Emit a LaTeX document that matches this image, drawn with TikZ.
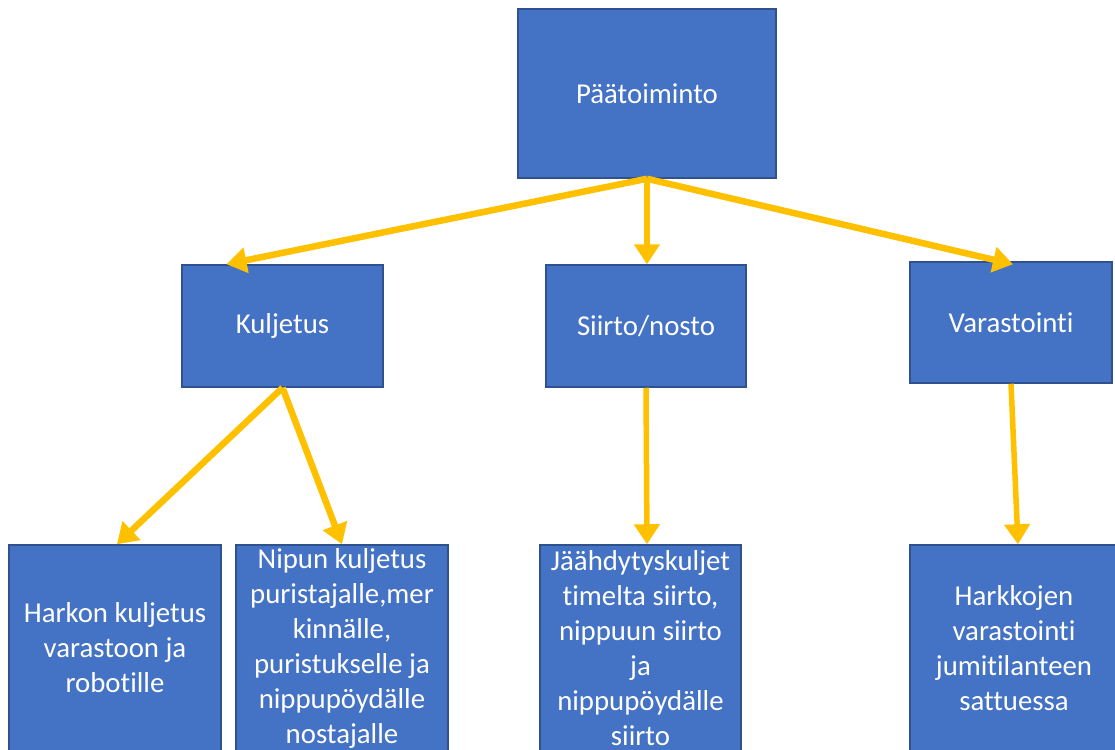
\documentclass[tikz,border=0pt]{standalone}
\usepackage{fontspec}
\setmainfont[Ligatures=NoCommon]{Carlito}
\usetikzlibrary{arrows.meta}
\definecolor{boxblue}{HTML}{4472C4}
\definecolor{boxedge}{HTML}{2F528F}
\definecolor{gold}{HTML}{FFC000}
\begin{document}
\begin{tikzpicture}[x=1pt,y=-1pt,
  box/.style={draw=boxedge,line width=1.5pt,fill=boxblue,text=white,align=center,inner sep=0pt,
    font=\fontsize{28.8}{35}\selectfont},
  conn/.style={draw=gold,line width=6.5pt,-{Triangle[width=25pt,length=20pt]}}]
\useasboundingbox (0,0) rectangle (1115,749);
\clip (0,0) rectangle (1115,749);
\node[box,minimum width=258pt,minimum height=169pt] (top) at (647,93.5) {Päätoiminto};
\node[box,minimum width=201pt,minimum height=122pt] (kul) at (282.5,326) {Kuljetus};
\node[box,minimum width=200pt,minimum height=122pt] (sii) at (646,326) {Siirto/nosto};
\node[box,minimum width=202pt,minimum height=121pt] (var) at (1011,322.5) {Varastointi};
\node[box,minimum width=212pt,minimum height=206pt] (har) at (115,648) {Harkon kuljetus\\varastoon ja\\robotille};
\node[box,minimum width=212pt,minimum height=206pt] (nip) at (342,648) {Nipun kuljetus\\puristajalle,mer\\kinnälle,\\puristukselle ja\\nippupöydälle\\nostajalle};
\node[box,minimum width=201pt,minimum height=206pt] (jaa) at (640.5,648) {Jäähdytyskuljet\\timelta siirto,\\nippuun siirto\\ja\\nippupöydälle\\siirto};
\node[box,minimum width=208pt,minimum height=206pt] (hark) at (1014,648) {Harkkojen\\varastointi\\jumitilanteen\\sattuessa};
\draw[conn] (top.south) -- ([xshift=-56pt]kul.north);
\draw[conn,line width=5.5pt] (top.south) -- ([xshift=1pt]sii.north);
\draw[conn] (top.south) -- ([xshift=2pt,yshift=-3pt]var.north);
\draw[conn] (kul.south) -- ([xshift=2pt]har.north);
\draw[conn] (kul.south) -- (nip.north);
\draw[conn,line width=5.5pt] (sii.south) -- ([xshift=6.5pt]jaa.north);
\draw[conn,line width=5.5pt] (var.south) -- ([xshift=4pt]hark.north);
\end{tikzpicture}
\end{document}
